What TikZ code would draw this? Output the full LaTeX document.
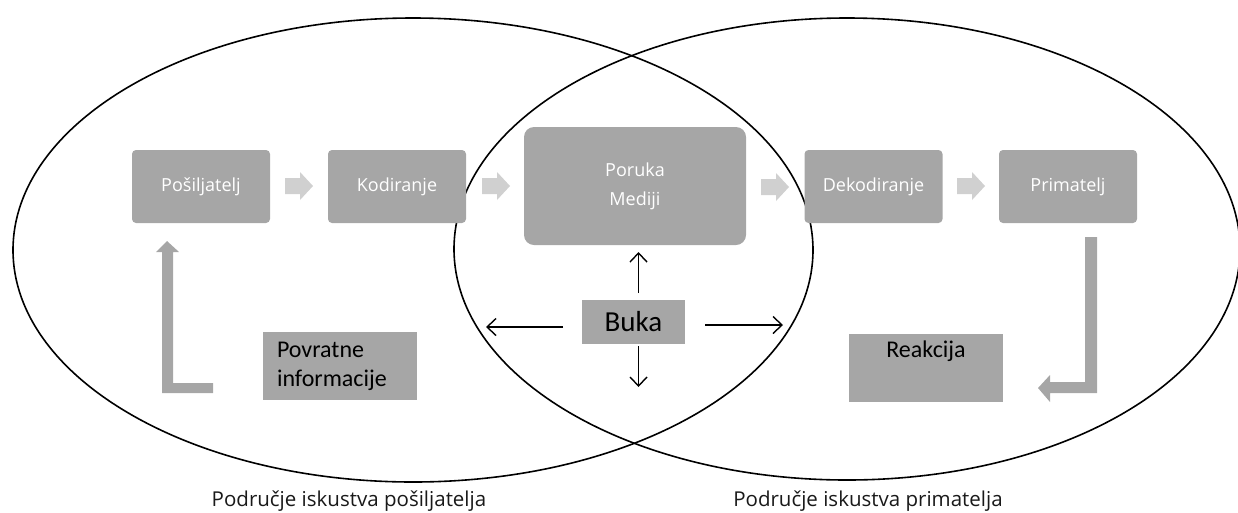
\documentclass[tikz,border=0pt]{standalone}
\usepackage{fontspec}
\setmainfont{Open Sans}
\newfontfamily\calfont{Carlito}
\usetikzlibrary{arrows.meta}
\definecolor{boxgray}{HTML}{A6A6A6}
\definecolor{lightarr}{HTML}{D0D0D0}
\tikzset{
  topbox/.style={fill=boxgray, rounded corners=4pt, minimum width=138pt, minimum height=73pt,
    text=white, font=\fontsize{18}{29}\selectfont, inner sep=0pt},
  bigbox/.style={fill=boxgray, rounded corners=10pt, minimum width=222pt, minimum height=118pt,
    text=white, font=\fontsize{18}{29}\selectfont, align=center, inner sep=0pt},
  flatbox/.style={fill=boxgray, font=\calfont\fontsize{24}{29}\selectfont, text=black},
  ell/.style={draw=black, line width=1.6pt},
  noise/.style={draw=black, line width=1.4pt, -{Straight Barb[length=9pt,width=17pt,line width=1.4pt]}},
  bottomlabel/.style={font=\fontsize{20.5}{24}\selectfont, text=black!90},
  blockarr/.style={fill=lightarr},
  larr/.style={fill=boxgray}
}
\newcommand\blockarrow[1]{\fill[blockarr] (#1) ++(-14,-8) -- ++(15,0) -- ++(0,-6) -- ++(13,14) -- ++(-13,14) -- ++(0,-6) -- ++(-15,0) -- cycle;}
\begin{document}
\begin{tikzpicture}[x=1pt,y=-1pt]
\useasboundingbox (0,0) rectangle (1238,512);
% ellipses
\draw[ell] (413,250) ellipse [x radius=400, y radius=232];
\draw[ell] (847,249) ellipse [x radius=393, y radius=231];
% top boxes
\node[topbox] (sender) at (201,186.5) {Pošiljatelj};
\node[topbox] (coding) at (397,186.5) {Kodiranje};
\node[bigbox] (msg) at (635,186) {Poruka\\Mediji};
\node[topbox] (decoding) at (873.5,186.5) {Dekodiranje};
\node[topbox] (receiver) at (1068,186.5) {Primatelj};
% block arrows
\blockarrow{299,186}
\blockarrow{496,186}
\blockarrow{775,187}
\blockarrow{971,186}
% L arrows
\fill[larr] (167,241) -- (179,252) -- (173,252) -- (173,383) -- (213,383) -- (213,393) -- (162,393) -- (162,252) -- (156,252) -- cycle;
\fill[larr] (1085,237) -- (1097,237) -- (1097,393) -- (1050,393) -- (1050,402) -- (1038,388) -- (1050,375) -- (1050,382) -- (1085,382) -- cycle;
% lower boxes
\node[flatbox, minimum width=154pt, minimum height=68pt, text width=126pt, inner xsep=14pt, inner ysep=0pt, align=left] (feedback) at (340,366) {Povratne\\informacije};
\node[flatbox, minimum width=154pt, minimum height=68pt, inner sep=0pt, align=center] (reaction) at (926,368) {Reakcija\\\strut};
\node[flatbox, minimum width=103pt, minimum height=44pt, inner sep=0pt, font=\calfont\fontsize{29}{30}\selectfont] (noiseb) at (633.5,322) {Buka};
% noise arrows
\coordinate (nl) at (486,327);
\coordinate (nr) at (783,325);
\coordinate (nd) at (638.5,387);
\draw[noise] (563,327) -- (nl);
\draw[noise] (705,325) -- (nr);
\draw[noise, shorten <=7pt, shorten >=7pt] (638.5,300) -- (638.5,245);
\draw[noise] (638.5,346) -- (nd);
% bottom labels
\node[bottomlabel] (lab1) at (349,501) {Područje iskustva pošiljatelja};
\node[bottomlabel] (lab2) at (868,501) {Područje iskustva primatelja};
\end{tikzpicture}
\end{document}
